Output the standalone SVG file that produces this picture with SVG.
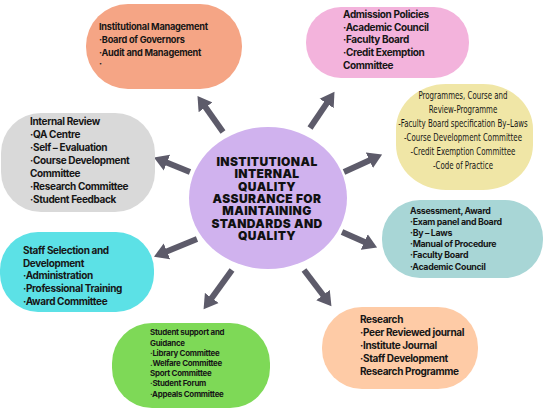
<svg xmlns="http://www.w3.org/2000/svg" width="550" height="412" viewBox="0 0 550 412">
<defs>
<marker id="ah" markerUnits="userSpaceOnUse" markerWidth="16" markerHeight="18" refX="1" refY="8.5" orient="auto" viewBox="0 0 16 17">
<path d="M0,0 L14,8.5 L0,17 z" fill="#5D5B6A"/>
</marker>
<style>
.t{font-family:Inter,"Liberation Sans",sans-serif;font-weight:700;fill:#161616;font-size:10px;letter-spacing:-0.35px}
.m{font-size:9.2px;letter-spacing:-0.25px}
.s{font-size:8.8px;letter-spacing:-0.3px}
.xs{font-size:7.9px;letter-spacing:-0.25px}
.c{font-family:"DejaVu Sans Condensed","DejaVu Sans",sans-serif;font-weight:400;fill:#161616;font-size:9.8px;text-anchor:middle}
.h{font-family:Inter,"Liberation Sans",sans-serif;font-weight:900;fill:#111;font-size:12px;text-anchor:middle;letter-spacing:0.4px}
.a{stroke:#5D5B6A;stroke-width:6;fill:none;marker-end:url(#ah)}
</style>
</defs>
<rect width="550" height="412" fill="#ffffff"/>
<g id="connectors">
<line class="a" x1="223" y1="132" x2="205" y2="106.5"/>
<line class="a" x1="310" y1="128" x2="327.2" y2="102.6"/>
<line class="a" x1="344" y1="172" x2="370.3" y2="159.9"/>
<line class="a" x1="190" y1="172" x2="166" y2="162.3"/>
<line class="a" x1="197" y1="239" x2="166" y2="251.7"/>
<line class="a" x1="342" y1="232" x2="365.2" y2="242.3"/>
<line class="a" x1="232" y1="270" x2="211.2" y2="298.7"/>
<line class="a" x1="304" y1="270" x2="323.6" y2="295.8"/>
</g>
<g id="center">
<ellipse cx="268" cy="198" rx="79" ry="71" fill="#D0B2EE"/>
<text class="h" x="267"><tspan x="267" y="166">INSTITUTIONAL</tspan><tspan x="267" y="178.3">INTERNAL</tspan><tspan x="267" y="190.6">QUALITY</tspan><tspan x="267" y="202.9">ASSURANCE FOR</tspan><tspan x="267" y="215.2">MAINTAINING</tspan><tspan x="267" y="227.5">STANDARDS AND</tspan><tspan x="267" y="239.8">QUALITY</tspan></text>
</g>
<g id="institutional-management">
<rect x="86" y="4" width="156" height="85" rx="42" fill="#F5A585"/>
<text class="t m"><tspan x="99" y="30">Institutional Management</tspan><tspan x="99" y="43">·Board of Governors</tspan><tspan x="99" y="56">·Audit and Management</tspan><tspan x="99" y="67">·</tspan></text>
</g>
<g id="admission-policies">
<rect x="306" y="7" width="163" height="71" rx="35" fill="#F3B3DC"/>
<text class="t"><tspan x="343" y="18">Admission Policies</tspan><tspan x="343" y="30.7">·Academic Council</tspan><tspan x="343" y="43.4">·Faculty Board</tspan><tspan x="343" y="56.1">·Credit Exemption</tspan><tspan x="343" y="68.8">Committee</tspan></text>
</g>
<g id="programmes">
<rect x="396" y="84" width="137" height="106" rx="50" ry="45" fill="#F0E6A6"/>
<text class="c" transform="translate(463,0) scale(0.8,1)"><tspan x="0" y="99">Programmes, Course and</tspan><tspan x="0" y="113">Review-Programme</tspan><tspan x="0" y="127">-Faculty Board specification By–Laws</tspan><tspan x="0" y="141">-Course Development Committee</tspan><tspan x="0" y="155">-Credit Exemption Committee</tspan><tspan x="0" y="169">-Code of Practice</tspan></text>
</g>
<g id="internal-review">
<rect x="1" y="113" width="154" height="99" rx="40" fill="#D9D9D9"/>
<text class="t"><tspan x="30" y="124.5">Internal Review</tspan><tspan x="30" y="137.5">·QA Centre</tspan><tspan x="30" y="150.5">·Self – Evaluation</tspan><tspan x="30" y="163.5">·Course Development</tspan><tspan x="30" y="176.5">Committee</tspan><tspan x="30" y="189.5">·Research Committee</tspan><tspan x="30" y="202.5">·Student Feedback</tspan></text>
</g>
<g id="staff-selection">
<rect x="0" y="232" width="154" height="80" rx="38" fill="#5CE1E6"/>
<text class="t"><tspan x="23" y="254">Staff Selection and</tspan><tspan x="23" y="266.7">Development</tspan><tspan x="23" y="279.4">·Administration</tspan><tspan x="23" y="292.1">·Professional Training</tspan><tspan x="23" y="304.8">·Award Committee</tspan></text>
</g>
<g id="assessment">
<rect x="382" y="200" width="161" height="78" rx="38" fill="#A8D6D6"/>
<text class="t s"><tspan x="410" y="213.5">Assessment, Award</tspan><tspan x="410" y="224.7">·Exam panel and Board</tspan><tspan x="410" y="235.9">·By – Laws</tspan><tspan x="410" y="247.1">·Manual of Procedure</tspan><tspan x="410" y="258.3">·Faculty Board</tspan><tspan x="410" y="269.5">·Academic Council</tspan></text>
</g>
<g id="student-support">
<rect x="112" y="323" width="158" height="85" rx="40" fill="#7ED957"/>
<text class="t xs"><tspan x="150" y="335.3">Student support and</tspan><tspan x="150" y="345.5">Guidance</tspan><tspan x="150" y="355.7">·Library Committee</tspan><tspan x="150" y="365.9">.Welfare Committee</tspan><tspan x="150" y="376.1">Sport Committee</tspan><tspan x="150" y="386.3">·Student Forum</tspan><tspan x="150" y="396.5">·Appeals Committee</tspan></text>
</g>
<g id="research">
<rect x="322" y="307" width="156" height="82" rx="40" fill="#FECBA6"/>
<text class="t"><tspan x="360" y="323">Research</tspan><tspan x="360" y="336">·Peer Reviewed journal</tspan><tspan x="360" y="349">·Institute Journal</tspan><tspan x="360" y="362">·Staff Development</tspan><tspan x="360" y="375">Research Programme</tspan></text>
</g>
</svg>
